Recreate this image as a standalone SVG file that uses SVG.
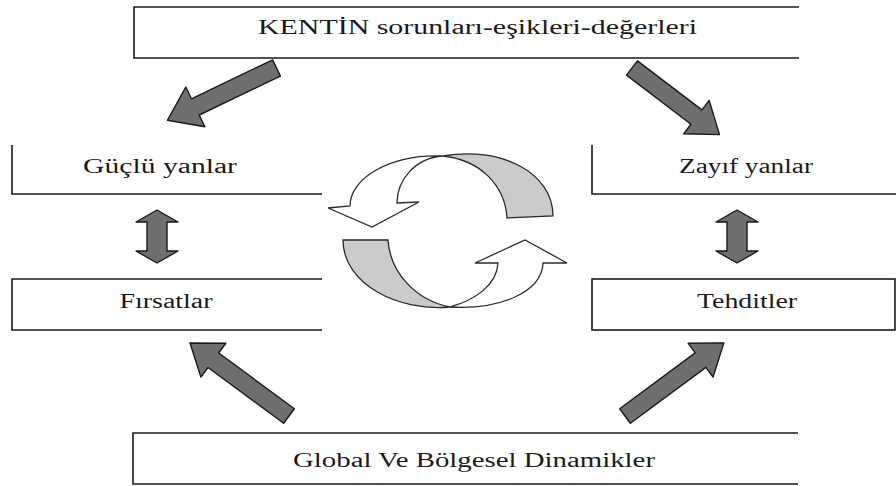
<svg xmlns="http://www.w3.org/2000/svg" width="896" height="486" viewBox="0 0 896 486">
<defs>
<style>
.edge{fill:none;stroke:#1a1a1a;stroke-width:1.6}
.lbl{font-family:"Liberation Serif","Times New Roman",serif;font-size:20px;fill:#1a1a1a;text-anchor:middle}
.blk{fill:#6f6f6f;stroke:#1a1a1a;stroke-width:1.4;stroke-linejoin:round}
.cyc-w{fill:#ffffff;stroke:#2a2a2a;stroke-width:1.3;stroke-linejoin:miter}
.cyc-g{fill:#cbcbcb;stroke:#2a2a2a;stroke-width:1.3}
</style>
</defs>
<rect width="896" height="486" fill="#ffffff"/>

<g id="node-kent">
<path class="edge" d="M799,7 H134 V58 H799"/>
<text class="lbl" x="477.5" y="34" textLength="439" lengthAdjust="spacingAndGlyphs">KENTİN sorunları-eşikleri-değerleri</text>
</g>

<g id="node-guclu">
<path class="edge" d="M12,145 V194 H322"/>
<text class="lbl" x="160" y="173" textLength="154" lengthAdjust="spacingAndGlyphs">Güçlü yanlar</text>
</g>

<g id="node-zayif">
<path class="edge" d="M592,145 V194 H896"/>
<text class="lbl" x="746" y="173" textLength="134" lengthAdjust="spacingAndGlyphs">Zayıf yanlar</text>
</g>

<g id="node-firsat">
<path class="edge" d="M322,279 H12 V330 H322"/>
<text class="lbl" x="166" y="308" textLength="93" lengthAdjust="spacingAndGlyphs">Fırsatlar</text>
</g>

<g id="node-tehdit">
<rect class="edge" x="592" y="279" width="303" height="51"/>
<text class="lbl" x="747" y="308" textLength="100" lengthAdjust="spacingAndGlyphs">Tehditler</text>
</g>

<g id="node-global">
<path class="edge" d="M798,433 H133 V484 H798"/>
<text class="lbl" x="474" y="467" textLength="362" lengthAdjust="spacingAndGlyphs">Global Ve Bölgesel Dinamikler</text>
</g>

<g id="connectors">
<polygon class="blk" transform="translate(276.5,68) rotate(154.4)" points="0,-9 90,-9 90,-22 121,0 90,22 90,9 0,9"/>
<polygon class="blk" transform="translate(632,68) rotate(37.3)" points="0,-9 81,-9 81,-21 110,0 81,21 81,9 0,9"/>
<polygon class="blk" transform="translate(289,416) rotate(-143.6)" points="0,-9 94,-9 94,-21 123,0 94,21 94,9 0,9"/>
<polygon class="blk" transform="translate(625,416) rotate(-36.5)" points="0,-9 94,-9 94,-21 123,0 94,21 94,9 0,9"/>
<polygon class="blk" points="157,210 178,222 167,222 167,251 178,251 157,263 136,251 147,251 147,222 136,222"/>
<polygon class="blk" points="737,210 758,222 747,222 747,251 758,251 737,263 716,251 727,251 727,222 716,222"/>
</g>

<g id="cycle">
<path class="cyc-g" d="M443,156 C500,146 553,172 553,216 L507,218 C505,185 480,160 443,156 Z"/>
<path class="cyc-w" d="M443,156 C390,154 350,178 350,206 L328,208 L372,227 L419,202 L397,203 C397,180 415,158 443,156 Z"/>
<path class="cyc-g" d="M343,240 L388,240 C390,272 415,300 450,307 C400,312 343,285 343,240 Z"/>
<path class="cyc-w" d="M450,307 C500,310 542,292 543,263 L567,263 L525,240 L475,263 L498,263 C497,285 475,300 450,307 Z"/>
</g>
</svg>
